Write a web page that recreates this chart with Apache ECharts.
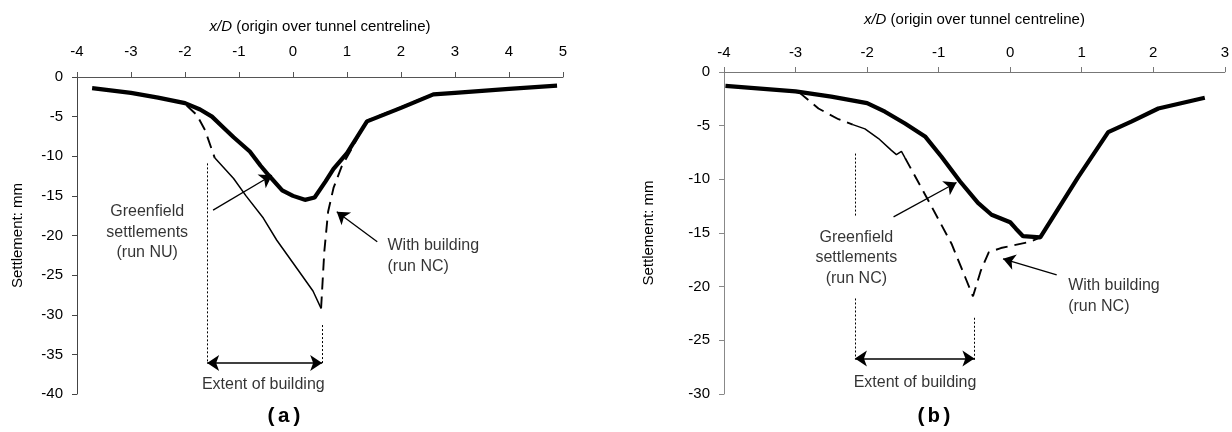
<!DOCTYPE html>
<html><head><meta charset="utf-8">
<script src="https://cdn.jsdelivr.net/npm/echarts@6/dist/echarts.min.js"></script>
<style>html,body{margin:0;padding:0;background:#fff}#c{width:1232px;height:432px}</style>
</head><body><div id="c"></div>
<script>
// ---------- Panel (a) ----------
const greenfieldA = [[-3.72,-1.4],[-3.0,-2.0],[-2.5,-2.6],[-2.0,-3.3],[-1.72,-4.1],[-1.5,-5.0],[-1.3,-6.3],[-1.1,-7.6],[-0.8,-9.4],[-0.6,-11.2],[-0.45,-12.4],[-0.2,-14.3],[0.0,-15.0],[0.22,-15.5],[0.4,-15.2],[0.6,-13.2],[0.75,-11.6],[1.0,-9.6],[1.37,-5.6],[2.0,-3.9],[2.6,-2.2],[3.0,-2.0],[4.0,-1.5],[4.89,-1.1]];
const withBuildingA_left = [[-2.3,-2.9],[-2.0,-3.4],[-1.78,-4.8],[-1.63,-6.7],[-1.45,-10.2]];
const withBuildingA_mid = [[-1.45,-10.2],[-1.1,-12.8],[-0.87,-15.0],[-0.55,-17.8],[-0.3,-20.6],[0.13,-24.7],[0.37,-27.0],[0.52,-29.2]];
const withBuildingA_right = [[0.52,-29.2],[0.58,-22.0],[0.65,-17.0],[0.75,-14.0],[0.9,-11.3],[1.05,-9.5],[1.37,-5.5],[2.0,-3.8],[2.6,-2.1]];
const extentA = [-1.59, 0.54];
const xTicksA = [-4, 5];
const yTicksA = [-40, 0];

// ---------- Panel (b) ----------
const greenfieldB = [[-3.98,-1.3],[-3.0,-1.8],[-2.5,-2.3],[-2.0,-2.9],[-1.75,-3.7],[-1.47,-4.8],[-1.19,-6.0],[-0.96,-7.9],[-0.7,-10.2],[-0.45,-12.2],[-0.26,-13.3],[0.0,-14.0],[0.08,-14.6],[0.18,-15.3],[0.42,-15.4],[0.95,-9.8],[1.37,-5.6],[1.7,-4.6],[2.07,-3.4],[2.72,-2.4]];
const withBuildingB_left = [[-2.95,-1.9],[-2.68,-3.4],[-2.4,-4.4],[-2.2,-4.9]];
const withBuildingB_mid = [[-2.2,-4.9],[-2.03,-5.3],[-1.84,-6.2],[-1.66,-7.3],[-1.59,-7.7],[-1.52,-7.4],[-1.47,-8.0]];
const withBuildingB_right = [[-1.47,-8.0],[-1.15,-11.9],[-0.82,-16.0],[-0.63,-19.1],[-0.52,-20.9],[-0.41,-18.5],[-0.3,-16.8],[-0.13,-16.4],[0.29,-15.8],[0.42,-15.4]];
const extentB = [-2.17, -0.5];
const xTicksB = [-4, 3];
const yTicksB = [-30, 0];

const FONT = 'Liberation Sans, Arial, sans-serif';
const chart = echarts.init(document.getElementById('c'));

function xAxisCfg(gi, ticks, nameGap, labelMargin, lineColor) {
  return {
    type: 'value', gridIndex: gi, position: 'top', min: ticks[0], max: ticks[1], interval: 1,
    name: '{i|x/D} (origin over tunnel centreline)', nameLocation: 'middle', nameGap: nameGap,
    nameTextStyle: { color: '#000', fontSize: 15, fontFamily: FONT, rich: { i: { fontStyle: 'italic', fontSize: 15, fontFamily: FONT, color: '#000' } } },
    axisLine: { show: true, onZero: false, lineStyle: { color: lineColor, width: 1 } },
    axisTick: { show: true, inside: false, length: 5, lineStyle: { color: lineColor } },
    axisLabel: { color: '#000', fontSize: 15, fontFamily: FONT, margin: labelMargin },
    splitLine: { show: false }
  };
}
function yAxisCfg(gi, ticks, nameGap, lineColor) {
  return {
    type: 'value', gridIndex: gi, min: ticks[0], max: ticks[1], interval: 5,
    name: 'Settlement: mm', nameLocation: 'middle', nameGap: nameGap, nameRotate: 90,
    nameTextStyle: { color: '#000', fontSize: 15, fontFamily: FONT },
    axisLine: { show: true, onZero: false, lineStyle: { color: lineColor, width: 1 } },
    axisTick: { show: true, length: 5, lineStyle: { color: lineColor } },
    axisLabel: { color: '#000', fontSize: 15, fontFamily: FONT, margin: 14 },
    splitLine: { show: false }
  };
}
function lineS(data, gi, width, type) {
  return { type: 'line', xAxisIndex: gi, yAxisIndex: gi, data: data, showSymbol: false, symbol: 'none',
    lineStyle: { color: '#000', width: width, type: type }, z: width > 3 ? 4 : 3, silent: true };
}
const dash = [12, 7];
function arrowLine(from, to) {
  return [{ coord: from, symbol: 'none' }, { coord: to, symbol: 'arrow', symbolSize: 12 }];
}
function labelS(gi, points, marks) {
  return { type: 'scatter', xAxisIndex: gi, yAxisIndex: gi, symbolSize: 0, silent: true, z: 5,
    data: points,
    label: { show: true, color: '#000', fontSize: 16, fontFamily: FONT, lineHeight: 20.5 },
    markLine: { silent: true, animation: false, label: { show: false }, data: marks }
  };
}

const option = {
  animation: false,
  backgroundColor: '#fff',
  grid: [
    { left: 77, top: 77, width: 486, height: 317 },
    { left: 724, top: 72, width: 501, height: 322 }
  ],
  xAxis: [xAxisCfg(0, xTicksA, 43, 18, '#555'), xAxisCfg(1, xTicksB, 45, 12, '#777')],
  yAxis: [yAxisCfg(0, yTicksA, 52, '#444'), yAxisCfg(1, yTicksB, 68, '#888')],
  graphic: [
    { type: 'text', left: 265, top: 406, style: { text: '(a)', font: 'bold 21px "Liberation Mono", "Courier New", monospace', fill: '#000' } },
    { type: 'text', left: 915, top: 406, style: { text: '(b)', font: 'bold 21px "Liberation Mono", "Courier New", monospace', fill: '#000' } }
  ],
  series: [
    lineS(greenfieldA, 0, 4.2, 'solid'),
    lineS(withBuildingA_left, 0, 1.9, dash),
    lineS(withBuildingA_mid, 0, 1.5, 'solid'),
    lineS(withBuildingA_right, 0, 1.9, dash),
    labelS(0, [
      { value: [-2.7, -19.6], label: { position: 'inside', align: 'center', formatter: 'Greenfield\nsettlements\n(run NU)' } },
      { value: [1.75, -22.6], label: { position: 'right', distance: 0, align: 'left', formatter: 'With building\n(run NC)' } },
      { value: [-0.55, -38.8], label: { position: 'inside', align: 'center', formatter: 'Extent of building' } }
    ], [
      arrowLine([-1.48, -16.8], [-0.39, -12.4]),
      arrowLine([1.56, -20.8], [0.81, -17.0]),
      [{ coord: [extentA[0], -36.1], symbol: 'arrow', symbolSize: 12 }, { coord: [extentA[1], -36.1], symbol: 'arrow', symbolSize: 12, lineStyle: { color: '#000', width: 1.6, type: 'solid' } }],
      [{ coord: [extentA[0], -10.9], symbol: 'none', lineStyle: { type: [2, 2], width: 1, color: '#000' } }, { coord: [extentA[0], -36.1], symbol: 'none' }],
      [{ coord: [extentA[1], -31.3], symbol: 'none', lineStyle: { type: [2, 2], width: 1, color: '#000' } }, { coord: [extentA[1], -36.3], symbol: 'none' }]
    ]),
    lineS(greenfieldB, 1, 4.2, 'solid'),
    lineS(withBuildingB_left, 1, 1.9, dash),
    lineS(withBuildingB_mid, 1, 1.5, 'solid'),
    lineS(withBuildingB_right, 1, 1.9, dash),
    labelS(1, [
      { value: [-2.15, -17.3], label: { position: 'inside', align: 'center', formatter: 'Greenfield\nsettlements\n(run NC)' } },
      { value: [0.81, -20.9], label: { position: 'right', distance: 0, align: 'left', formatter: 'With building\n(run NC)' } },
      { value: [-1.33, -28.9], label: { position: 'inside', align: 'center', formatter: 'Extent of building' } }
    ], [
      arrowLine([-1.63, -13.5], [-0.75, -10.3]),
      arrowLine([0.65, -18.9], [-0.1, -17.4]),
      [{ coord: [extentB[0], -26.7], symbol: 'arrow', symbolSize: 12 }, { coord: [extentB[1], -26.7], symbol: 'arrow', symbolSize: 12, lineStyle: { color: '#000', width: 1.6, type: 'solid' } }],
      [{ coord: [extentB[0], -7.6], symbol: 'none', lineStyle: { type: [2, 2], width: 1, color: '#000' } }, { coord: [extentB[0], -13.5], symbol: 'none' }],
      [{ coord: [extentB[0], -21.1], symbol: 'none', lineStyle: { type: [2, 2], width: 1, color: '#000' } }, { coord: [extentB[0], -26.7], symbol: 'none' }],
      [{ coord: [extentB[1], -22.9], symbol: 'none', lineStyle: { type: [2, 2], width: 1, color: '#000' } }, { coord: [extentB[1], -27.0], symbol: 'none' }]
    ])
  ]
};
option.series.forEach(s => { if (s.markLine) s.markLine.lineStyle = { color: '#000', width: 1.3, type: 'solid' }; });
chart.setOption(option);
</script>
</body></html>
